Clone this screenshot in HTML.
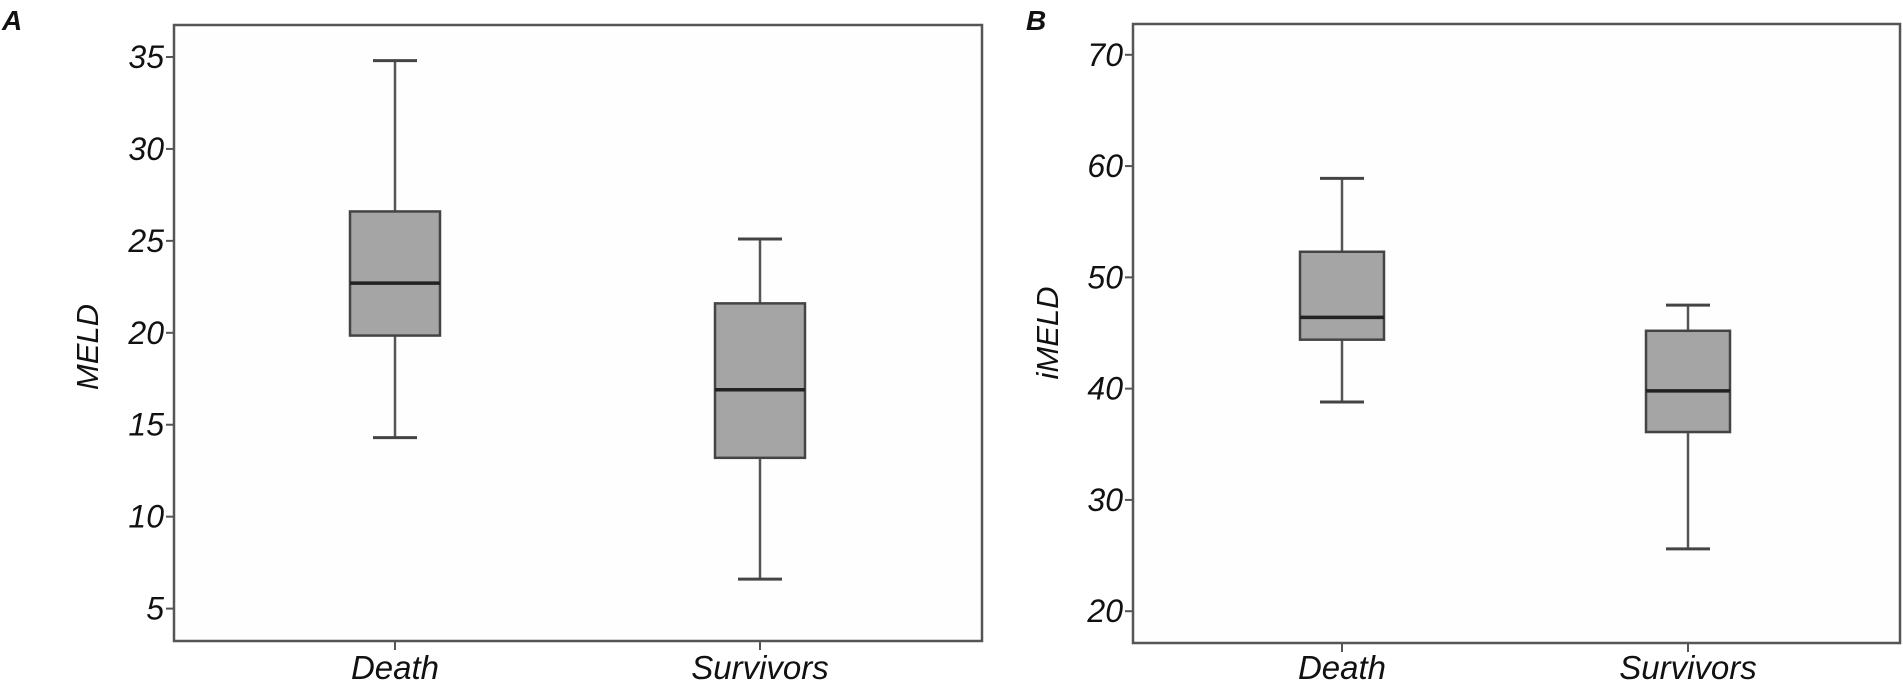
<!DOCTYPE html>
<html><head><meta charset="utf-8"><style>
html,body{margin:0;padding:0;background:#fff;}
svg text{font-family:"Liberation Sans",sans-serif;font-style:italic;fill:#111;}
</style></head><body>
<svg id="chart" width="1903" height="688" viewBox="0 0 1903 688" xmlns="http://www.w3.org/2000/svg">
<text x="2" y="30" font-size="28" font-weight="bold">A</text>
<text x="1026" y="30" font-size="28" font-weight="bold">B</text>
</svg>
<script>
const categories = ["Death", "Survivors"];
const meldTicks = [5, 10, 15, 20, 25, 30, 35];
const meldMin = [14.3, 6.6];
const meldQ1 = [19.85, 13.2];
const meldMedian = [22.7, 16.9];
const meldQ3 = [26.6, 21.6];
const meldMax = [34.8, 25.1];
const imeldTicks = [20, 30, 40, 50, 60, 70];
const imeldMin = [38.8, 25.6];
const imeldQ1 = [44.4, 36.1];
const imeldMedian = [46.4, 39.8];
const imeldQ3 = [52.3, 45.2];
const imeldMax = [58.9, 47.5];

const NS = "http://www.w3.org/2000/svg";
const svg = document.getElementById('chart');
function mk(tag, attrs, parent) {
  const e = document.createElementNS(NS, tag);
  for (const k in attrs) e.setAttribute(k, attrs[k]);
  (parent || svg).appendChild(e);
  return e;
}
function panel(cfg) {
  const g = mk('g', {});
  
  
  const y = v => cfg.y0 + (v - cfg.v0) * (cfg.y1 - cfg.y0) / (cfg.v1 - cfg.v0);
  const frame = mk('rect', {x: cfg.left, y: cfg.top, width: cfg.right - cfg.left, height: cfg.bottom - cfg.top, fill: '#fefefe', stroke: '#555', 'stroke-width': 2.5}, g);
  
  
  cfg.ticks.forEach(t => {
    const ty = y(t);
    const tl = mk('line', {x1: cfg.left - 8, x2: cfg.left, y1: ty, y2: ty, stroke: '#555', 'stroke-width': 2}, g);
    
    
    const tx = mk('text', {x: cfg.left - 10, y: ty + 11, 'font-size': 32, 'text-anchor': 'end'}, g);
    tx.textContent = t;
    
    
  });
  const title = mk('text', {x: 0, y: 0, 'font-size': 31, 'text-anchor': 'middle', transform: `translate(${cfg.titleX},${cfg.titleY}) rotate(-90)`}, g);
  title.textContent = cfg.title;
  
  
  categories.forEach((c, i) => {
    const cx = cfg.xs[i];
    const hw = cfg.hw;
    const tk = mk('line', {x1: cx, x2: cx, y1: cfg.bottom, y2: cfg.bottom + 9, stroke: '#555', 'stroke-width': 2}, g);
    
    
    const lb = mk('text', {x: cx, y: 679, 'font-size': 33, 'text-anchor': 'middle'}, g);
    lb.textContent = c;
    
    
    const bg = mk('g', {}, g);
    
    
    mk('line', {x1: cx, x2: cx, y1: y(cfg.max[i]), y2: y(cfg.q3[i]), stroke: '#555', 'stroke-width': 2.5}, bg);
    mk('line', {x1: cx, x2: cx, y1: y(cfg.q1[i]), y2: y(cfg.min[i]), stroke: '#555', 'stroke-width': 2.5}, bg);
    mk('line', {x1: cx - 22, x2: cx + 22, y1: y(cfg.max[i]), y2: y(cfg.max[i]), stroke: '#444', 'stroke-width': 3}, bg);
    mk('line', {x1: cx - 22, x2: cx + 22, y1: y(cfg.min[i]), y2: y(cfg.min[i]), stroke: '#444', 'stroke-width': 3}, bg);
    mk('rect', {x: cx - hw, y: y(cfg.q3[i]), width: 2 * hw, height: y(cfg.q1[i]) - y(cfg.q3[i]), fill: '#a5a5a5', stroke: '#444', 'stroke-width': 2.5}, bg);
    mk('line', {x1: cx - hw, x2: cx + hw, y1: y(cfg.med[i]), y2: y(cfg.med[i]), stroke: '#222', 'stroke-width': 3.5}, bg);
  });
}
panel({name: 'panel-a-meld', left: 174, right: 982, top: 25, bottom: 641, v0: 35, y0: 57, v1: 5, y1: 608.6,
  ticks: meldTicks, title: 'MELD', titleX: 98, titleY: 347, xs: [395, 760], hw: 45,
  min: meldMin, q1: meldQ1, med: meldMedian, q3: meldQ3, max: meldMax});
panel({name: 'panel-b-imeld', left: 1133, right: 1900, top: 24, bottom: 643, v0: 70, y0: 54.8, v1: 20, y1: 611.2,
  ticks: imeldTicks, title: 'iMELD', titleX: 1058, titleY: 333, xs: [1342, 1688], hw: 42,
  min: imeldMin, q1: imeldQ1, med: imeldMedian, q3: imeldQ3, max: imeldMax});
</script>
</body></html>
